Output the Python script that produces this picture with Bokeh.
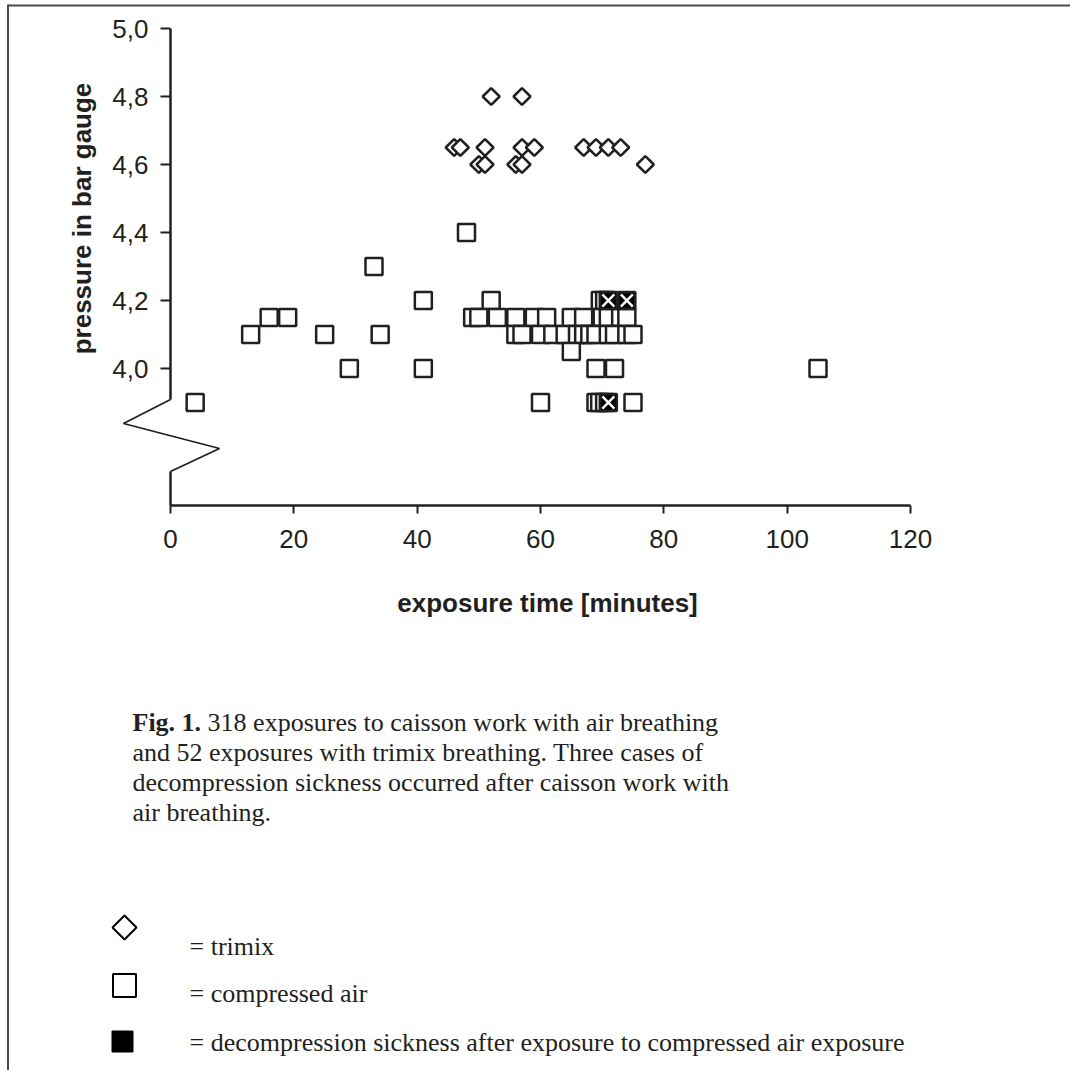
import math
from bokeh.plotting import figure
from bokeh.models import (Range1d, FixedTicker, CustomJSTickFormatter, LinearAxis)
from bokeh.embed import file_html
from bokeh.resources import INLINE
from bokeh.core.properties import value

# ---------------- data ----------------
air_minutes = [33,
               48,
               41, 52, 69.7, 70.4,
               16, 19, 49, 50, 53, 56, 59, 61, 65, 67, 70, 71, 73, 74,
               13, 25, 34, 56, 57, 60, 62, 64, 66, 67, 68, 69, 71, 72, 74, 75,
               65,
               29, 41, 69, 72, 105,
               4, 60, 69, 69.6, 70.4, 75]
air_pressure = [4.3,
                4.4,
                4.2, 4.2, 4.2, 4.2,
                4.15, 4.15, 4.15, 4.15, 4.15, 4.15, 4.15, 4.15, 4.15, 4.15, 4.15, 4.15, 4.15, 4.15,
                4.1, 4.1, 4.1, 4.1, 4.1, 4.1, 4.1, 4.1, 4.1, 4.1, 4.1, 4.1, 4.1, 4.1, 4.1, 4.1,
                4.05,
                4.0, 4.0, 4.0, 4.0, 4.0,
                3.9, 3.9, 3.9, 3.9, 3.9, 3.9]

dcs_minutes = [71, 74, 71]
dcs_pressure = [4.2, 4.2, 3.9]

trimix_minutes = [52, 57,
                  46, 47, 51, 57, 59, 67, 69, 71, 73,
                  50, 51, 56, 57, 77]
trimix_pressure = [4.8, 4.8,
                   4.65, 4.65, 4.65, 4.65, 4.65, 4.65, 4.65, 4.65, 4.65,
                   4.6, 4.6, 4.6, 4.6, 4.6]

x_ticks = [0, 20, 40, 60, 80, 100, 120]
y_ticks = [4.0, 4.2, 4.4, 4.6, 4.8, 5.0]

x_title = "exposure time [minutes]"
y_title = "pressure in bar gauge"
caption_bold = "Fig. 1."
caption_lines = ["318 exposures to caisson work with air breathing",
                 "and 52 exposures with trimix breathing. Three cases of",
                 "decompression sickness occurred after caisson work with",
                 "air breathing."]
legend_texts = ["= trimix", "= compressed air",
                "= decompression sickness after exposure to compressed air exposure"]

# ---------------- layout constants (page pixels) ----------------
ORIGIN = 0          # Bokeh's page template has no body margin
W = 1070
X0_PX, X120_PX = 170, 910
Y50_PX, YAX_PX = 28, 505
PX_PER_MIN = (X120_PX - X0_PX) / 120.0
PX_PER_BAR = 340.0
Y_BOTTOM = 5.0 - (YAX_PX - Y50_PX) / PX_PER_BAR

def dx(px):   # page x -> minutes
    return (px - X0_PX) / PX_PER_MIN

def dy(py):   # page y -> bar
    return 5.0 - (py - Y50_PX) / PX_PER_BAR

INK = "#231f20"
SANS = "Liberation Sans"
SERIF = "Liberation Serif"

p = figure(width=W, height=W, x_range=Range1d(dx(ORIGIN), dx(ORIGIN + W)),
           y_range=Range1d(dy(ORIGIN + W), dy(ORIGIN)),
           output_backend="svg", toolbar_location=None,
           x_axis_location=None, y_axis_location=None,
           min_border=0, min_border_left=0, min_border_right=0, min_border_top=0, min_border_bottom=0)
p.outline_line_color = None
p.xgrid.visible = False
p.ygrid.visible = False
p.background_fill_color = "white"
p.border_fill_color = "white"

# axes at fixed positions (ticks + labels only; lines drawn separately)
ax = LinearAxis(fixed_location=Y_BOTTOM)
ax.ticker = FixedTicker(ticks=x_ticks)
ax.axis_line_color = None
ax.major_tick_line_color = INK
ax.major_tick_line_width = 2
ax.major_tick_out = 8
ax.major_tick_in = 0
ax.minor_tick_line_color = None
ax.major_label_text_font = SANS
ax.major_label_text_font_size = "26px"
ax.major_label_text_color = INK
ax.major_label_standoff = 16
p.add_layout(ax, "below")

ay = LinearAxis(fixed_location=0)
ay.ticker = FixedTicker(ticks=y_ticks)
ay.formatter = CustomJSTickFormatter(code="return tick.toFixed(1).replace('.', ',');")
ay.axis_line_color = None
ay.major_tick_line_color = INK
ay.major_tick_line_width = 2
ay.major_tick_out = 10
ay.major_tick_in = 0
ay.minor_tick_line_color = None
ay.major_label_text_font = SANS
ay.major_label_text_font_size = "26px"
ay.major_label_text_color = INK
ay.major_label_standoff = 12
p.add_layout(ay, "left")

# axis lines: x axis, broken y axis
p.segment(x0=[x_ticks[0]], y0=[Y_BOTTOM], x1=[x_ticks[-1]], y1=[Y_BOTTOM], line_color=INK, line_width=2.5)
brk_x = [0, 0, dx(123), dx(219), 0, 0]
brk_y = [y_ticks[-1], dy(399), dy(423), dy(448), dy(471), Y_BOTTOM]
p.line(brk_x[:2], brk_y[:2], line_color=INK, line_width=2.5)
p.line(brk_x[1:5], brk_y[1:5], line_color=INK, line_width=1.8)
p.line(brk_x[4:], brk_y[4:], line_color=INK, line_width=2.5)

# page frame lines (top and left)
p.segment(x0=[dx(7.5), dx(7.5)], y0=[dy(5), dy(4)], x1=[dx(ORIGIN + W), dx(7.5)], y1=[dy(5), dy(ORIGIN + W)],
          line_color="#4a4a4a", line_width=2)

# data marks
p.scatter(air_minutes, air_pressure, marker="square", size=17, fill_color="white",
          line_color=INK, line_width=2.5)
p.scatter(dcs_minutes, dcs_pressure, marker="square", size=17, fill_color="black",
          line_color=INK, line_width=2.5)
p.scatter(dcs_minutes, dcs_pressure, marker="x", size=17, line_color="white", line_width=2.5)
p.scatter(trimix_minutes, trimix_pressure, marker="square", angle=math.pi / 4, size=12,
          fill_color="white", line_color=INK, line_width=2.5)

# axis titles
p.text(x=[dx(547)], y=[dy(602)], text=[x_title], text_font=value(SANS),
       text_font_size="26px", text_font_style="bold", text_color=INK,
       text_align="center", text_baseline="alphabetic")
p.text(x=[dx(81)], y=[dy(218)], text=[y_title], text_font=value(SANS),
       text_font_size="26px", text_font_style="bold", text_color=INK,
       text_align="center", text_baseline="alphabetic", angle=math.pi / 2)

# ---------------- caption ----------------
CAP_SIZE = 26
cap_x = 132
cap_base = [722, 752, 782, 812]
bold_w = 2.639 * CAP_SIZE + 0.25 * CAP_SIZE
p.text(x=[dx(cap_x)], y=[dy(cap_base[0])], text=[caption_bold], text_font=value(SERIF),
       text_font_size=f"{CAP_SIZE}px", text_font_style="bold", text_color=INK,
       text_baseline="alphabetic", text_align="left")
p.text(x=[dx(cap_x + bold_w)] + [dx(cap_x)] * 3, y=[dy(b) for b in cap_base], text=caption_lines,
       text_font=value(SERIF), text_font_size=f"{CAP_SIZE}px", text_color=INK,
       text_baseline="alphabetic", text_align="left")

# ---------------- legend ----------------
leg_base = [946, 993, 1042]
p.scatter([dx(124)], [dy(927)], marker="square", angle=math.pi / 4, size=17,
          fill_color="white", line_color="black", line_width=2)
p.scatter([dx(124)], [dy(985)], marker="square", size=23, fill_color="white",
          line_color="black", line_width=2)
p.scatter([dx(122)], [dy(1041)], marker="square", size=21, fill_color="black",
          line_color="black", line_width=1)
p.text(x=[dx(189)] * 3, y=[dy(b) for b in leg_base], text=legend_texts, text_font=value(SERIF),
       text_font_size=f"{CAP_SIZE}px", text_color=INK, text_baseline="alphabetic", text_align="left")

open("out.html", "w").write(file_html(p, INLINE))
